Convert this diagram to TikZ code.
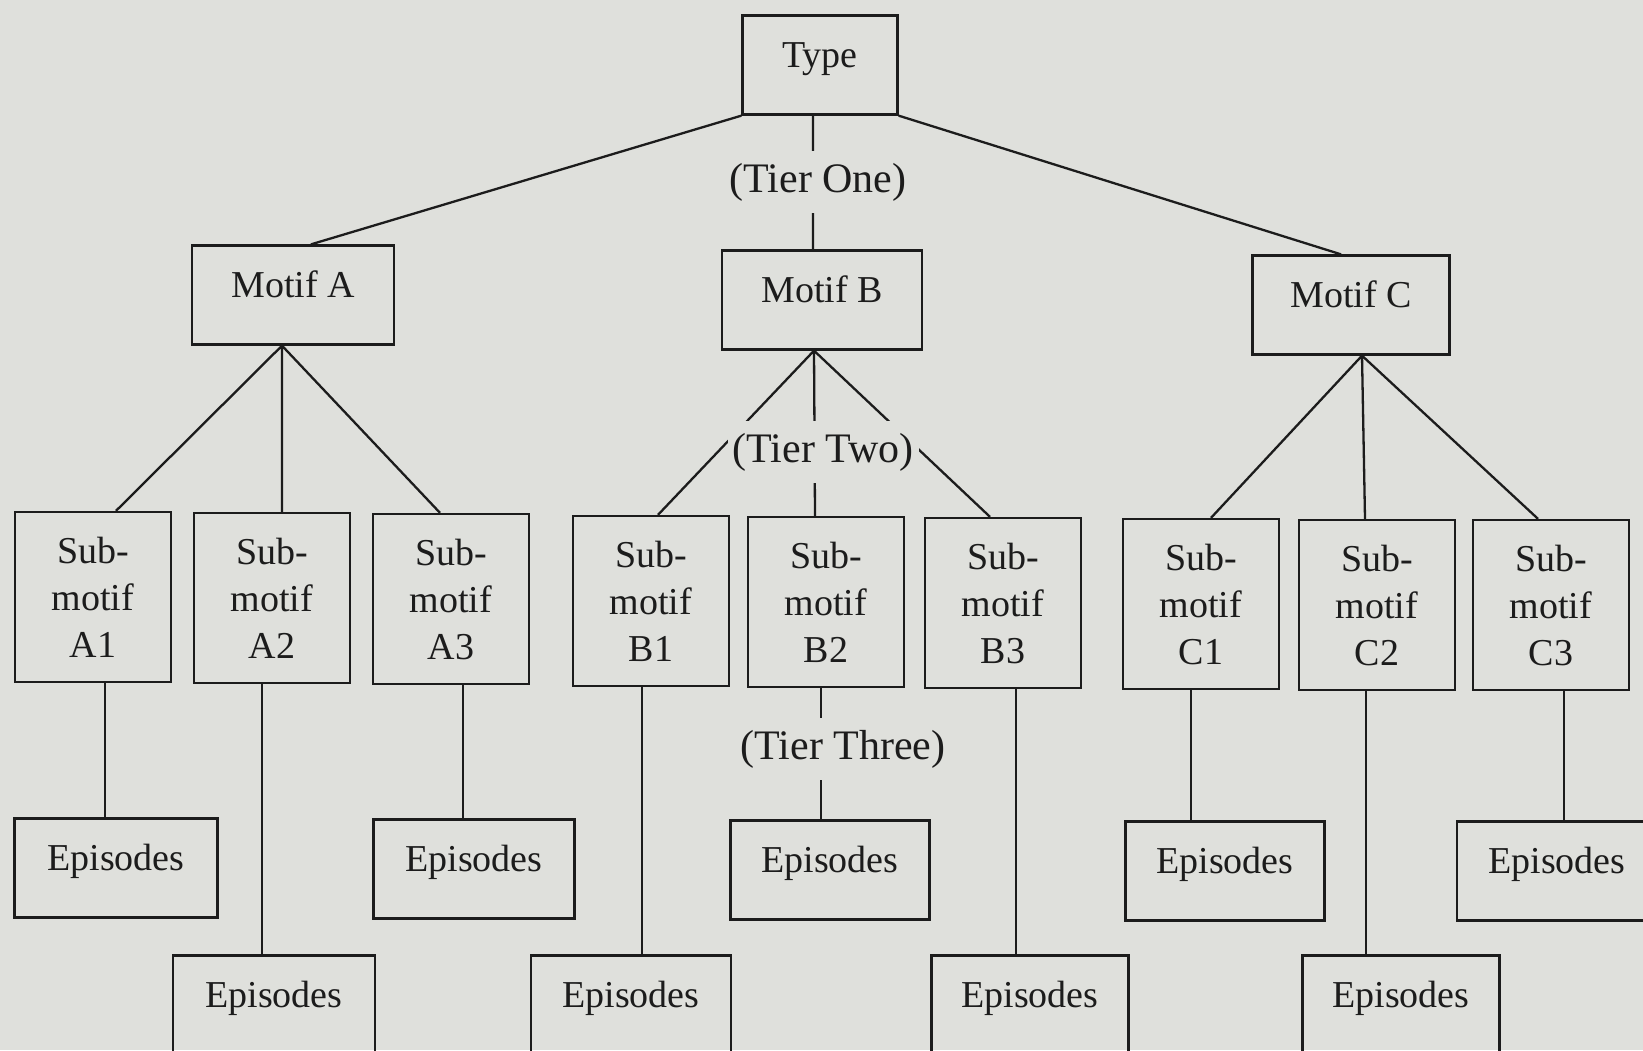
\documentclass[tikz,border=0pt]{standalone}
\usepackage{fontspec}
\newfontfamily\treefont{Liberation Serif}
\usepackage{tikz}
\usetikzlibrary{calc}
\definecolor{paper}{RGB}{223,224,220}
\definecolor{ink}{RGB}{28,28,28}
\tikzset{
  box/.style={draw=ink, line width=2.3pt, inner sep=0pt, text=ink,
    font=\treefont\fontsize{38}{47}\selectfont},
  headbox/.style={box, text height=52pt, text depth=47pt},
  subbox/.style={box, align=center, minimum width=156pt, minimum height=170pt},
  tier/.style={fill=paper, text=ink, inner xsep=5pt, inner ysep=12pt,
    font=\treefont\fontsize{42}{50}\selectfont},
  link/.style={draw=ink, line width=2.3pt}
}

\begin{document}
\begin{tikzpicture}[x=1pt, y=-1pt]
  \useasboundingbox (0,0) rectangle (1643,1050);
  \clip (0,0) rectangle (1643,1050);
  \fill[paper] (0,0) rectangle (1643,1050);

  \node[headbox, minimum width=155pt] (type) at (820,65) {Type};

  \node[headbox, minimum width=202pt] (motifA) at (293,295) {Motif A};
  \node[headbox, minimum width=200pt] (motifB) at (822,300) {Motif B};
  \node[headbox, minimum width=197pt] (motifC) at (1351,305) {Motif C};

  \node[subbox] (subA1) at (93,597)   {Sub-\\motif\\A1};
  \node[subbox] (subA2) at (272,598)  {Sub-\\motif\\A2};
  \node[subbox] (subA3) at (451,599)  {Sub-\\motif\\A3};
  \node[subbox] (subB1) at (651,601)  {Sub-\\motif\\B1};
  \node[subbox] (subB2) at (826,602)  {Sub-\\motif\\B2};
  \node[subbox] (subB3) at (1003,603) {Sub-\\motif\\B3};
  \node[subbox] (subC1) at (1201,604) {Sub-\\motif\\C1};
  \node[subbox] (subC2) at (1377,605) {Sub-\\motif\\C2};
  \node[subbox] (subC3) at (1551,605) {Sub-\\motif\\C3};

  % upper row of episodes
  \node[headbox, minimum width=203pt] (epA1) at (116,868)  {Episodes};
  \node[headbox, minimum width=201pt] (epA3) at (474,869)  {Episodes};
  \node[headbox, minimum width=199pt] (epB2) at (830,870)  {Episodes};
  \node[headbox, minimum width=199pt] (epC1) at (1225,871) {Episodes};
  \node[headbox, minimum width=200pt] (epC3) at (1557,871) {Episodes};

  % lower row of episodes
  \node[headbox, minimum width=202pt] (epA2) at (274,1005)  {Episodes};
  \node[headbox, minimum width=200pt] (epB1) at (631,1005)  {Episodes};
  \node[headbox, minimum width=197pt] (epB3) at (1030,1005) {Episodes};
  \node[headbox, minimum width=197pt] (epC2) at (1401,1005) {Episodes};

  \coordinate (apexA) at ($(motifA.south)+(-11,0)$);
  \coordinate (apexB) at ($(motifB.south)+(-8,0)$);
  \coordinate (apexC) at ($(motifC.south)+(11,0)$);

  \draw[link]
    (type.south west) -- ($(motifA.north)+(18,0)$)
    (type.south east) -- ($(motifC.north)+(-10,0)$)
    ($(type.south)+(-7,0)$) -- ($(motifB.north)+(-9,0)$);

  \draw[link]
    (apexA) -- ($(subA1.north)+(23,0)$)
    (apexA) -- ($(subA2.north)+(10,0)$)
    (apexA) -- ($(subA3.north)+(-11,0)$);

  \draw[link]
    (apexB) -- ($(subB1.north)+(7,0)$)
    (apexB) -- ($(subB2.north)+(-11,0)$)
    (apexB) -- ($(subB3.north)+(-13,0)$);

  \draw[link]
    (apexC) -- ($(subC1.north)+(10,0)$)
    (apexC) -- ($(subC2.north)+(-12,0)$)
    (apexC) -- ($(subC3.north)+(-13,0)$);

  \draw[link] ($(subA1.south)+(12,0)$) coordinate (a1) -- (a1 |- epA1.north);
  \draw[link] ($(subA2.south)+(-10,0)$) coordinate (a2) -- (a2 |- epA2.north);
  \draw[link] ($(subA3.south)+(12,0)$) coordinate (a3) -- (a3 |- epA3.north);
  \draw[link] ($(subB1.south)+(-9,0)$) coordinate (b1) -- (b1 |- epB1.north);
  \draw[link] ($(subB2.south)+(-5,0)$) coordinate (b2) -- (b2 |- epB2.north);
  \draw[link] ($(subB3.south)+(13,0)$) coordinate (b3) -- (b3 |- epB3.north);
  \draw[link] ($(subC1.south)+(-10,0)$) coordinate (c1) -- (c1 |- epC1.north);
  \draw[link] ($(subC2.south)+(-11,0)$) coordinate (c2) -- (c2 |- epC2.north);
  \draw[link] ($(subC3.south)+(13,0)$) coordinate (c3) -- (c3 |- epC3.north);

  % tier labels sit on top of the lines
  \node[tier] (tierOne) at (818,182) {(Tier One)};
  \node[tier] (tierTwo) at (823,452) {(Tier Two)};
  \node[tier] (tierThree) at (843,749) {(Tier Three)};
\end{tikzpicture}
\end{document}
